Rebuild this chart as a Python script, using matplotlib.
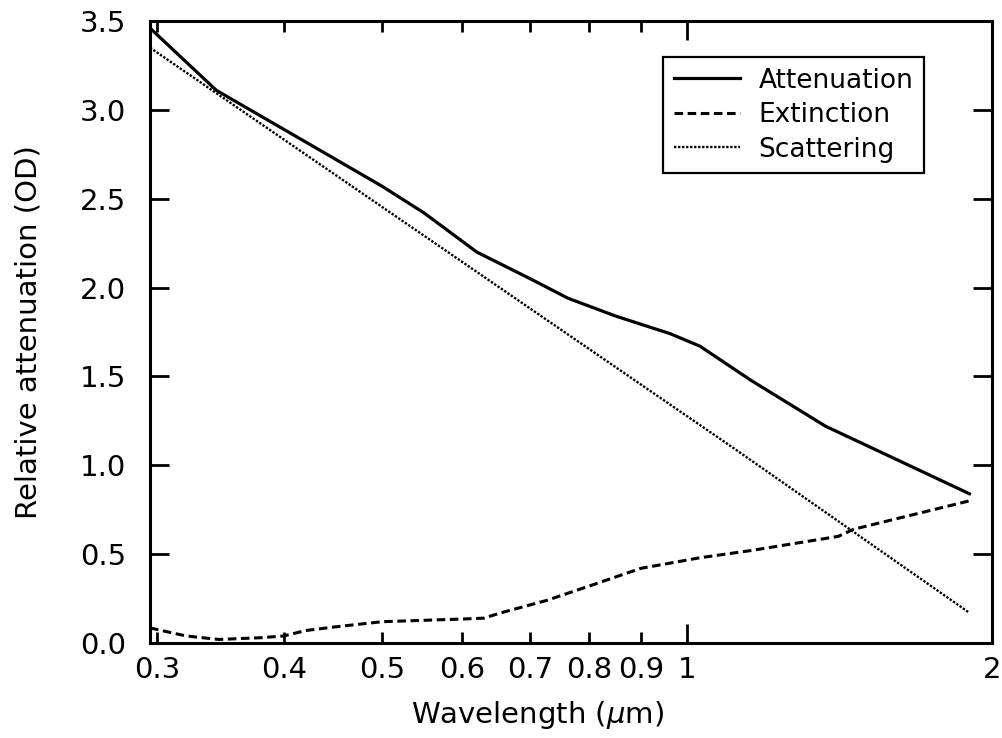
import numpy as np
import matplotlib.pyplot as plt

# Дані
wl_att = [0.295, 0.343, 0.438, 0.50, 0.55, 0.584, 0.62, 0.70, 0.763, 0.85, 0.963, 1.03, 1.155, 1.37, 1.67, 1.9]
attenuation = [3.46, 3.11, 2.76, 2.57, 2.42, 2.31, 2.20, 2.05, 1.94, 1.84, 1.74, 1.67, 1.48, 1.22, 0.99, 0.84]

wl_ext = [0.295, 0.32, 0.345, 0.38, 0.40, 0.42, 0.448, 0.50, 0.60, 0.63, 0.655, 0.727, 0.80, 0.90, 1.03, 1.155, 1.41, 1.46, 1.9]
extinction = [0.085, 0.04, 0.02, 0.03, 0.04, 0.07, 0.09, 0.12, 0.135, 0.14, 0.17, 0.24, 0.32, 0.42, 0.48, 0.52, 0.60, 0.64, 0.80]

wl_sca = [0.295, 1.116, 1.9]
scattering = [3.35, 1.09, 0.17]

x_major = [1, 2]
x_minor = [0.3, 0.4, 0.5, 0.6, 0.7, 0.8, 0.9]
y_ticks = [0.0, 0.5, 1.0, 1.5, 2.0, 2.5, 3.0, 3.5]

fig = plt.figure(figsize=(10.03, 7.38), dpi=100)
ax = fig.add_axes([0.1496, 0.1287, 0.8394, 0.8428])

ax.plot(wl_att, attenuation, 'k-', linewidth=2.3, label='Attenuation')
ax.plot(wl_ext, extinction, 'k', linestyle=(0, (2.8, 1.5)), linewidth=2.2, label='Extinction')
ax.plot(wl_sca, scattering, 'k', linestyle=(0, (1, 0.7)), linewidth=1.7, label='Scattering')

ax.set_xscale('log')
ax.set_xlim(0.295, 2.0)
ax.set_ylim(0, 3.5)

ax.set_xticks(x_major, [f'{v:g}' for v in x_major])
ax.set_xticks(x_minor, [f'{v:g}' for v in x_minor], minor=True)
ax.set_yticks(y_ticks, [f'{v:.1f}' for v in y_ticks])

ax.tick_params(which='both', direction='in', top=True, right=True, labelsize=21, width=2.0)
ax.tick_params(axis='x', which='major', length=14, pad=9)
ax.tick_params(axis='x', which='minor', length=8, pad=9)
ax.tick_params(axis='y', length=14, pad=17)

for s in ax.spines.values():
    s.set_linewidth(2.2)

ax.set_xlabel(r'Wavelength ($\mu$m)', fontsize=21)
ax.set_ylabel('Relative attenuation (OD)', fontsize=21)
ax.xaxis.set_label_coords(0.46, -0.09)
ax.yaxis.set_label_coords(-0.128, 0.5)

leg = ax.legend(loc='upper right', bbox_to_anchor=(0.919, 0.942), fontsize=19,
                handlelength=2.5, fancybox=False, edgecolor='black', framealpha=1,
                borderpad=0.4, labelspacing=0.32, handletextpad=0.7, borderaxespad=0)
leg.get_frame().set_linewidth(1.6)

fig.savefig('out.png', dpi=100)
